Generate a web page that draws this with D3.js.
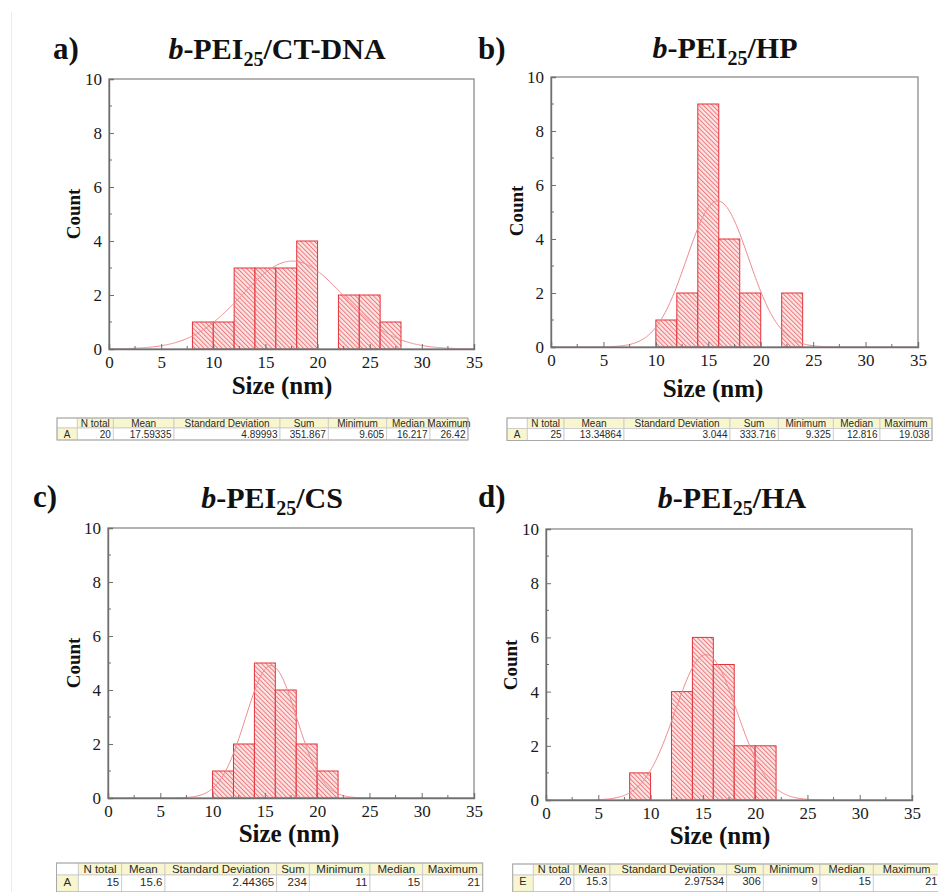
<!DOCTYPE html>
<html><head><meta charset="utf-8">
<script src="https://cdn.jsdelivr.net/npm/d3@7"></script>
<style>
html,body{margin:0;padding:0;background:#fff;}
svg{display:block;}
</style></head>
<body>
<svg id="chart" width="938" height="892"></svg>
<script>
// ---------------- data ----------------
const panelLetters = ["a)", "b)", "c)", "d)"];
const titleSuffix = ["/CT-DNA", "/HP", "/CS", "/HA"];
const binWidth = 2;
const binsA = [8, 10, 12, 14, 16, 18, 20, 22, 24, 26];
const countsA = [1, 1, 3, 3, 3, 4, 0, 2, 2, 1];
const binsB = [10, 12, 14, 16, 18, 20, 22];
const countsB = [1, 2, 9, 4, 2, 0, 2];
const binsC = [10, 12, 14, 16, 18, 20];
const countsC = [1, 2, 5, 4, 2, 1];
const binsD = [8, 10, 12, 14, 16, 18, 20];
const countsD = [1, 0, 4, 6, 5, 2, 2];
// normal fit parameters (mean, sd, count)
const fitMean = [17.59, 15.9, 15.6, 15.3];
const fitSD = [4.9, 2.95, 2.44, 2.975];
const fitN = [20, 20, 15, 20];
const xTicks = [0, 5, 10, 15, 20, 25, 30, 35];
const yTicks = [0, 2, 4, 6, 8, 10];
const xLabel = "Size (nm)";
const yLabel = "Count";
const tableHeaders = ["", "N total", "Mean", "Standard Deviation", "Sum", "Minimum", "Median", "Maximum"];
const tableRowA = ["A", "20", "17.59335", "4.89993", "351.867", "9.605", "16.217", "26.42"];
const tableRowB = ["A", "25", "13.34864", "3.044", "333.716", "9.325", "12.816", "19.038"];
const tableRowC = ["A", "15", "15.6", "2.44365", "234", "11", "15", "21"];
const tableRowD = ["E", "20", "15.3", "2.97534", "306", "9", "15", "21"];

// ---------------- layout ----------------
const panels = [
  {bins: binsA, counts: countsA, row: tableRowA,
   x0: 109, x1: 474, y0: 79, y1: 349,
   labX: 53, labY: 59, titleX: 277, titleY: 59,
   xlabX: 282, xlabY: 394, ylabX: 80, ylabY: 214,
   tcols: [57, 77.3, 113.3, 174, 280, 328.3, 386.7, 430, 468], tTop: 418, tMid: 428, tBot: 440, tFont: 10},
  {bins: binsB, counts: countsB, row: tableRowB,
   x0: 551, x1: 918, y0: 77, y1: 347,
   labX: 478, labY: 59, titleX: 725, titleY: 58,
   xlabX: 713, xlabY: 397, ylabX: 523, ylabY: 211,
   tcols: [507, 527.3, 564, 624, 730, 778.3, 833.3, 880, 932], tTop: 418, tMid: 428.5, tBot: 440.5, tFont: 10},
  {bins: binsC, counts: countsC, row: tableRowC,
   x0: 108, x1: 474, y0: 528, y1: 798,
   labX: 33, labY: 507, titleX: 272, titleY: 508,
   xlabX: 289, xlabY: 842, ylabX: 80, ylabY: 663,
   tcols: [56.5, 78.3, 121.7, 165, 276.7, 309.3, 370, 422.7, 482.7], tTop: 863, tMid: 875, tBot: 892, tFont: 11.5},
  {bins: binsD, counts: countsD, row: tableRowD,
   x0: 546, x1: 912, y0: 529, y1: 800,
   labX: 478, labY: 507, titleX: 732, titleY: 508,
   xlabX: 720, xlabY: 844, ylabX: 517, ylabY: 665,
   tcols: [512.7, 533.3, 574, 610, 726.7, 763.3, 820, 873.3, 940], tTop: 864, tMid: 875, tBot: 892, tFont: 11}
];

const svg = d3.select("#chart");
const serif = "'Liberation Serif','Times New Roman',serif";
const sans = "'Liberation Sans',Arial,sans-serif";

// faint page border on the left
svg.append("line").attr("x1", 11.5).attr("x2", 11.5).attr("y1", 12).attr("y2", 892)
  .attr("stroke", "#ececec").attr("stroke-width", 1);

// hatch pattern
const defs = svg.append("defs");
const pat = defs.append("pattern").attr("id", "hatch").attr("patternUnits", "userSpaceOnUse")
  .attr("width", 3.2).attr("height", 3.2).attr("patternTransform", "rotate(-45)");
pat.append("rect").attr("width", 3.2).attr("height", 3.2).attr("fill", "#fde4e4");
pat.append("line").attr("x1", 0.5).attr("x2", 0.5).attr("y1", 0).attr("y2", 3.2)
  .attr("stroke", "#ec6f72").attr("stroke-width", 0.9);

panels.forEach((p, i) => {
  const g = svg.append("g");
  const x = d3.scaleLinear().domain([0, 35]).range([p.x0, p.x1]);
  const y = d3.scaleLinear().domain([0, 10]).range([p.y1, p.y0]);

  // bars
  const bars = p.bins.map((b, j) => ({start: b, count: p.counts[j]})).filter(d => d.count > 0);
  g.selectAll("rect.bar").data(bars).enter().append("rect")
    .attr("class", "bar")
    .attr("x", d => x(d.start))
    .attr("width", d => x(d.start + binWidth) - x(d.start))
    .attr("y", d => y(d.count))
    .attr("height", d => y(0) - y(d.count))
    .attr("fill", "url(#hatch)")
    .attr("stroke", "#e3323b").attr("stroke-width", 1);

  // normal fit curve
  const m = fitMean[i], s = fitSD[i], n = fitN[i];
  const pts = d3.range(0, 35.001, 0.1).map(v => [v, n * binWidth * Math.exp(-0.5 * ((v - m) / s) ** 2) / (s * Math.sqrt(2 * Math.PI))]);
  g.append("path").datum(pts)
    .attr("d", d3.line().x(d => x(d[0])).y(d => y(d[1])).curve(d3.curveLinear))
    .attr("fill", "none").attr("stroke", "#f08a8f").attr("stroke-width", 1);

  // frame
  g.append("rect").attr("x", p.x0).attr("y", p.y0).attr("width", p.x1 - p.x0).attr("height", p.y1 - p.y0)
    .attr("fill", "none").attr("stroke", "#8a8a8a").attr("stroke-width", 1.3);

  // axes (ticks inward)
  const xAxis = d3.axisBottom(x).tickValues(xTicks).tickSize(-5).tickPadding(7).tickFormat(d3.format("d"));
  const xa = g.append("g").attr("transform", `translate(0,${p.y1})`).call(xAxis);
  const yAxis = d3.axisLeft(y).tickValues(yTicks).tickSize(-5).tickPadding(7).tickFormat(d3.format("d"));
  const ya = g.append("g").attr("transform", `translate(${p.x0},0)`).call(yAxis);
  [xa, ya].forEach(a => {
    a.select(".domain").attr("stroke", "#6f6f6f").attr("stroke-width", 1.4);
    a.selectAll(".tick line").attr("stroke", "#6f6f6f").attr("stroke-width", 1);
    a.selectAll(".tick text").attr("fill", "#1a1a1a").style("font-family", serif).style("font-size", "17px");
  });
  // minor ticks
  const xMinor = d3.range(2.5, 35, 5);
  g.selectAll("line.xm").data(xMinor).enter().append("line")
    .attr("x1", d => x(d)).attr("x2", d => x(d)).attr("y1", p.y1).attr("y2", p.y1 - 3)
    .attr("stroke", "#6f6f6f").attr("stroke-width", 1);
  const yMinor = d3.range(1, 10, 2);
  g.selectAll("line.ym").data(yMinor).enter().append("line")
    .attr("x1", p.x0).attr("x2", p.x0 + 3).attr("y1", d => y(d)).attr("y2", d => y(d))
    .attr("stroke", "#6f6f6f").attr("stroke-width", 1);

  // axis titles
  g.append("text").attr("x", p.xlabX).attr("y", p.xlabY).attr("text-anchor", "middle")
    .style("font-family", serif).style("font-weight", "bold").style("font-size", "25px").attr("fill", "#111")
    .text(xLabel);
  g.append("text").attr("transform", `translate(${p.ylabX},${p.ylabY}) rotate(-90)`).attr("text-anchor", "middle")
    .style("font-family", serif).style("font-weight", "bold").style("font-size", "19px").attr("fill", "#111")
    .text(yLabel);

  // panel letter
  g.append("text").attr("x", p.labX).attr("y", p.labY)
    .style("font-family", serif).style("font-weight", "bold").style("font-size", "31px").attr("fill", "#111")
    .text(panelLetters[i]);
  // title with subscript
  const t = g.append("text").attr("x", p.titleX).attr("y", p.titleY).attr("text-anchor", "middle")
    .style("font-family", serif).style("font-weight", "bold").style("font-size", "30px").attr("fill", "#111");
  t.append("tspan").style("font-style", "italic").text("b");
  t.append("tspan").text("-PEI");
  t.append("tspan").attr("dy", 7).style("font-size", "20px").text("25");
  t.append("tspan").attr("dy", -7).text(titleSuffix[i]);

  // statistics table
  const tg = svg.append("g");
  const c = p.tcols;
  for (let k = 0; k < 8; k++) {
    tg.append("rect").attr("x", c[k]).attr("y", p.tTop).attr("width", c[k + 1] - c[k]).attr("height", p.tMid - p.tTop)
      .attr("fill", k === 0 ? "#ffffff" : "#f8f6cf").attr("stroke", "#c9c9c9").attr("stroke-width", 0.8);
    tg.append("rect").attr("x", c[k]).attr("y", p.tMid).attr("width", c[k + 1] - c[k]).attr("height", p.tBot - p.tMid)
      .attr("fill", k === 0 ? "#f8f6cf" : "#ffffff").attr("stroke", "#c9c9c9").attr("stroke-width", 0.8);
    const rowY = (p.tMid + Math.min(p.tBot, p.tMid + 13)) / 2;
    if (k > 0) {
      tg.append("text").attr("x", (c[k] + c[k + 1]) / 2).attr("y", (p.tTop + p.tMid) / 2).attr("dy", "0.35em")
        .attr("text-anchor", "middle").style("font-family", sans).style("font-size", p.tFont + "px").attr("fill", "#2a2a2a")
        .text(tableHeaders[k]);
      tg.append("text").attr("x", c[k + 1] - 2.5).attr("y", rowY).attr("dy", "0.35em")
        .attr("text-anchor", "end").style("font-family", sans).style("font-size", p.tFont + "px").attr("fill", "#2a2a2a")
        .text(p.row[k]);
    } else {
      tg.append("text").attr("x", (c[0] + c[1]) / 2).attr("y", rowY).attr("dy", "0.35em")
        .attr("text-anchor", "middle").style("font-family", sans).style("font-size", p.tFont + "px").attr("fill", "#2a2a2a")
        .text(p.row[0]);
    }
  }
  tg.append("rect").attr("x", c[0]).attr("y", p.tTop).attr("width", c[8] - c[0]).attr("height", p.tBot - p.tTop)
    .attr("fill", "none").attr("stroke", "#a8a8a8").attr("stroke-width", 1);
});
</script>
</body></html>
